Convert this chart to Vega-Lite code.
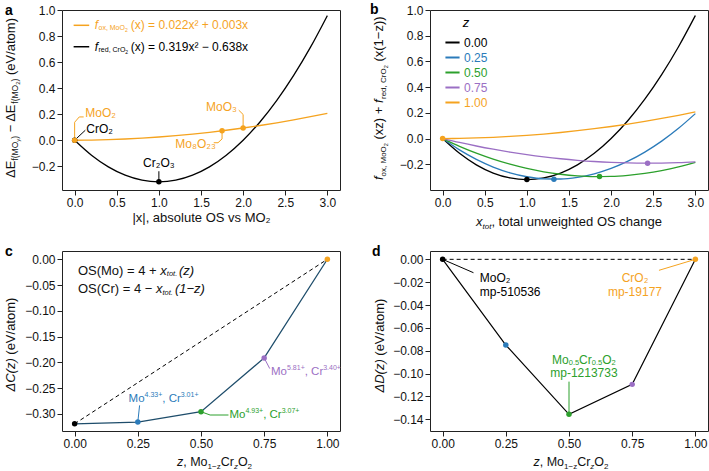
{
"$schema": "https://vega.github.io/schema/vega-lite/v6.json",
"background": "white",
"padding": {"left": 3, "top": 2, "right": 0, "bottom": 0},
"config": {
  "font": "Liberation Sans",
  "view": {"stroke": "#222222", "strokeWidth": 1},
  "axis": {"domain": false, "grid": false, "tickColor": "#222222", "tickSize": 5, "tickWidth": 1, "labelFont": "Liberation Sans", "labelFontSize": 12, "labelColor": "#111111", "labelPadding": 2, "labelFlush": false, "labelOverlap": false, "titleFont": "Liberation Sans", "titleFontSize": 13, "titleFontWeight": "normal", "titleColor": "#111111", "titlePadding": 3},
  "text": {"font": "Liberation Sans", "color": "#111111"},
  "legend": {"labelFont": "Liberation Sans", "titleFont": "Liberation Sans"}
},
"datasets": {
  "one": [{"x": 0, "y": 0}],
  "curves": [
    {"zs":"0.00","x":0,"y":0},{"zs":"0.00","x":0.2,"y":-0.11484},{"zs":"0.00","x":0.4,"y":-0.20416},{"zs":"0.00","x":0.6,"y":-0.26796},{"zs":"0.00","x":0.8,"y":-0.30624},{"zs":"0.00","x":1.0,"y":-0.319},{"zs":"0.00","x":1.2,"y":-0.30624},{"zs":"0.00","x":1.4,"y":-0.26796},{"zs":"0.00","x":1.6,"y":-0.20416},{"zs":"0.00","x":1.8,"y":-0.11484},{"zs":"0.00","x":2.0,"y":0},{"zs":"0.00","x":2.2,"y":0.14036},{"zs":"0.00","x":2.4,"y":0.30624},{"zs":"0.00","x":2.6,"y":0.49764},{"zs":"0.00","x":2.8,"y":0.71456},{"zs":"0.00","x":3.0,"y":0.957},
    {"zs":"0.25","x":0,"y":0},{"zs":"0.25","x":0.2,"y":-0.08832},{"zs":"0.25","x":0.4,"y":-0.16217},{"zs":"0.25","x":0.6,"y":-0.22156},{"zs":"0.25","x":0.8,"y":-0.26648},{"zs":"0.25","x":1.0,"y":-0.29694},{"zs":"0.25","x":1.2,"y":-0.31293},{"zs":"0.25","x":1.4,"y":-0.31446},{"zs":"0.25","x":1.6,"y":-0.30152},{"zs":"0.25","x":1.8,"y":-0.27412},{"zs":"0.25","x":2.0,"y":-0.23225},{"zs":"0.25","x":2.2,"y":-0.17592},{"zs":"0.25","x":2.4,"y":-0.10512},{"zs":"0.25","x":2.6,"y":-0.01986},{"zs":"0.25","x":2.8,"y":0.07987},{"zs":"0.25","x":3.0,"y":0.19406},
    {"zs":"0.50","x":0,"y":0},{"zs":"0.50","x":0.2,"y":-0.06009},{"zs":"0.50","x":0.4,"y":-0.11336},{"zs":"0.50","x":0.6,"y":-0.15981},{"zs":"0.50","x":0.8,"y":-0.19944},{"zs":"0.50","x":1.0,"y":-0.23225},{"zs":"0.50","x":1.2,"y":-0.25824},{"zs":"0.50","x":1.4,"y":-0.27741},{"zs":"0.50","x":1.6,"y":-0.28976},{"zs":"0.50","x":1.8,"y":-0.29529},{"zs":"0.50","x":2.0,"y":-0.294},{"zs":"0.50","x":2.2,"y":-0.28589},{"zs":"0.50","x":2.4,"y":-0.27096},{"zs":"0.50","x":2.6,"y":-0.24921},{"zs":"0.50","x":2.8,"y":-0.22064},{"zs":"0.50","x":3.0,"y":-0.18525},
    {"zs":"0.75","x":0,"y":0},{"zs":"0.75","x":0.2,"y":-0.03016},{"zs":"0.75","x":0.4,"y":-0.05773},{"zs":"0.75","x":0.6,"y":-0.08272},{"zs":"0.75","x":0.8,"y":-0.10512},{"zs":"0.75","x":1.0,"y":-0.12494},{"zs":"0.75","x":1.2,"y":-0.14217},{"zs":"0.75","x":1.4,"y":-0.15682},{"zs":"0.75","x":1.6,"y":-0.16888},{"zs":"0.75","x":1.8,"y":-0.17836},{"zs":"0.75","x":2.0,"y":-0.18525},{"zs":"0.75","x":2.2,"y":-0.18956},{"zs":"0.75","x":2.4,"y":-0.19128},{"zs":"0.75","x":2.6,"y":-0.19042},{"zs":"0.75","x":2.8,"y":-0.18697},{"zs":"0.75","x":3.0,"y":-0.18094},
    {"zs":"1.00","x":0,"y":0},{"zs":"1.00","x":0.2,"y":0.00148},{"zs":"1.00","x":0.4,"y":0.00472},{"zs":"1.00","x":0.6,"y":0.00972},{"zs":"1.00","x":0.8,"y":0.01648},{"zs":"1.00","x":1.0,"y":0.025},{"zs":"1.00","x":1.2,"y":0.03528},{"zs":"1.00","x":1.4,"y":0.04732},{"zs":"1.00","x":1.6,"y":0.06112},{"zs":"1.00","x":1.8,"y":0.07668},{"zs":"1.00","x":2.0,"y":0.094},{"zs":"1.00","x":2.2,"y":0.11308},{"zs":"1.00","x":2.4,"y":0.13392},{"zs":"1.00","x":2.6,"y":0.15652},{"zs":"1.00","x":2.8,"y":0.18088},{"zs":"1.00","x":3.0,"y":0.207}
  ],
  "a_leaders": [
    {"id":"MoO2","series":"ox","k":0,"x":0,"y":0},{"id":"MoO2","series":"ox","k":1,"x":0,"y":0.138},{"id":"MoO2","series":"ox","k":2,"x":0.055,"y":0.179},{"id":"MoO2","series":"ox","k":3,"x":0.107,"y":0.179},
    {"id":"CrO2","series":"red","k":0,"x":0,"y":0},{"id":"CrO2","series":"red","k":1,"x":0.127,"y":0.077},
    {"id":"Cr2O3","series":"red","k":0,"x":1,"y":-0.319},{"id":"Cr2O3","series":"red","k":1,"x":1,"y":-0.238},
    {"id":"MoO3","series":"ox","k":0,"x":2,"y":0.094},{"id":"MoO3","series":"ox","k":1,"x":2,"y":0.198},{"id":"MoO3","series":"ox","k":2,"x":1.948,"y":0.231},
    {"id":"Mo8O23","series":"ox","k":0,"x":1.75,"y":0.0726},{"id":"Mo8O23","series":"ox","k":1,"x":1.75,"y":0.01},{"id":"Mo8O23","series":"ox","k":2,"x":1.702,"y":-0.019},{"id":"Mo8O23","series":"ox","k":3,"x":1.651,"y":-0.019}
  ],
  "a_points": [
    {"series":"red","x":1,"y":-0.319},{"series":"red","x":0,"y":0},{"series":"ox","x":0,"y":0},{"series":"ox","x":1.75,"y":0.0726},{"series":"ox","x":2,"y":0.094}
  ],
  "a_text": [
    {"series":"ox","x":0.127,"y":0.21,"t":"MoO₂"},{"series":"red","x":0.139,"y":0.09,"t":"CrO₂"},{"series":"red","x":1,"y":-0.175,"t":"Cr₂O₃"},{"series":"ox","x":1.56,"y":0.256,"t":"MoO₃"},{"series":"ox","x":1.195,"y":-0.028,"t":"Mo₈O₂₃"}
  ],
  "b_min": [
    {"zs":"0.00","x":1.0,"y":-0.319},{"zs":"0.25","x":1.321,"y":-0.3156},{"zs":"0.50","x":1.862,"y":-0.2956},{"zs":"0.75","x":2.433,"y":-0.1913},{"zs":"1.00","x":0,"y":0}
  ],
  "c_pts": [
    {"zs":"0.00","x":0,"y":-0.319},{"zs":"0.25","x":0.25,"y":-0.3156},{"zs":"0.50","x":0.5,"y":-0.2956},{"zs":"0.75","x":0.75,"y":-0.1913},{"zs":"1.00","x":1,"y":0}
  ],
  "c_leaders": [
    {"id":"b","zs":"0.25","k":0,"x":0.25,"y":-0.3156},{"id":"b","zs":"0.25","k":1,"x":0.257,"y":-0.2833},
    {"id":"g","zs":"0.50","k":0,"x":0.5,"y":-0.2956},{"id":"g","zs":"0.50","k":1,"x":0.536,"y":-0.302},{"id":"g","zs":"0.50","k":2,"x":0.6087,"y":-0.302},
    {"id":"p","zs":"0.75","k":0,"x":0.75,"y":-0.1913},{"id":"p","zs":"0.75","k":1,"x":0.772,"y":-0.212}
  ],
  "c_labels": [
    {"zs":"0.25","x":0.2134,"y":-0.2715,"mo":"4.33+","cr":"3.01+"},
    {"zs":"0.50","x":0.6126,"y":-0.302,"mo":"4.93+","cr":"3.07+"},
    {"zs":"0.75","x":0.777,"y":-0.219,"mo":"5.81+","cr":"3.40+"}
  ],
  "d_pts": [
    {"zs":"0.00","x":0,"y":0},{"zs":"0.25","x":0.25,"y":-0.075},{"zs":"0.50","x":0.5,"y":-0.1356},{"zs":"0.75","x":0.75,"y":-0.1094},{"zs":"1.00","x":1,"y":0}
  ],
  "d_leaders": [
    {"id":"m","zs":"0.00","k":0,"x":0,"y":0},{"id":"m","zs":"0.00","k":1,"x":0.122,"y":-0.0117},
    {"id":"c","zs":"1.00","k":0,"x":1,"y":0},{"id":"c","zs":"1.00","k":1,"x":0.856,"y":-0.0096},
    {"id":"g","zs":"0.50","k":0,"x":0.5,"y":-0.107},{"id":"g","zs":"0.50","k":1,"x":0.5,"y":-0.1356}
  ],
  "d_text": [
    {"zs":"0.00","x":0.147,"y":-0.0161,"t":"MoO₂"},{"zs":"0.00","x":0.147,"y":-0.0286,"t":"mp-510536"},
    {"zs":"1.00","x":0.761,"y":-0.0161,"t":"CrO₂"},{"zs":"1.00","x":0.761,"y":-0.0286,"t":"mp-19177"},
    {"zs":"0.50","x":0.559,"y":-0.0995,"t":"mp-1213733"}
  ]
},
"columns": 2,
"bounds": "flush",
"spacing": {"row": 61, "column": 90},
"resolve": {"scale": {"color": "independent"}},
"concat": [
{
  "width": 278, "height": 180,
  "encoding": {
    "x": {"field":"x","type":"quantitative","scale":{"domain":[-0.15,3.15],"nice":false,"zero":false},"axis":{"values":[0,0.5,1,1.5,2,2.5,3],"format":".1f","title":"|x|, absolute OS vs MO₂"}},
    "y": {"field":"y","type":"quantitative","scale":{"domain":[-0.382,1.0],"nice":false,"zero":false},"axis":{"values":[-0.2,0,0.2,0.4,0.6,0.8,1.0],"format":".1f","title":null}}
  },
  "layer": [
    {"data":{"name":"curves"},"transform":[{"filter":"datum.zs=='0.00'"}],"mark":{"type":"line","color":"#000000","strokeWidth":1.3,"interpolate":"monotone"},"encoding":{}},
    {"data":{"name":"curves"},"transform":[{"filter":"datum.zs=='1.00'"}],"mark":{"type":"line","color":"#f5a31f","strokeWidth":1.3,"interpolate":"monotone"},"encoding":{}},
    {"data":{"name":"a_leaders"},"mark":{"type":"line","strokeWidth":1},"encoding":{"detail":{"field":"id"},"order":{"field":"k"},"color":{"field":"series","type":"nominal","scale":{"domain":["ox","red"],"range":["#f5a31f","#000000"]},"legend":null}}},
    {"data":{"name":"a_points"},"mark":{"type":"circle","size":30,"opacity":1},"encoding":{"color":{"field":"series","type":"nominal","legend":null}}},
    {"data":{"name":"a_text"},"transform":[{"filter":"datum.t!='Cr₂O₃'"}],"mark":{"type":"text","align":"left","baseline":"middle","fontSize":12},"encoding":{"text":{"field":"t"},"color":{"field":"series","type":"nominal","legend":null}}},
    {"data":{"name":"a_text"},"transform":[{"filter":"datum.t=='Cr₂O₃'"}],"mark":{"type":"text","align":"center","baseline":"middle","fontSize":12},"encoding":{"text":{"field":"t"},"color":{"field":"series","type":"nominal","legend":null}}},
    {"data":{"name":"one"},"mark":{"type":"rule","color":"#f5a31f","strokeWidth":1.5},"encoding":{"x":{"datum":-0.012},"x2":{"datum":0.173},"y":{"datum":0.8825}}},
    {"data":{"name":"one"},"mark":{"type":"rule","color":"#000000","strokeWidth":1.5},"encoding":{"x":{"datum":-0.012},"x2":{"datum":0.173},"y":{"datum":0.718}}},
    {"data":{"name":"one"},"mark":{"type":"text","align":"left","baseline":"middle","fontSize":12,"fontStyle":"italic","dx":5.5,"color":"#f5a31f"},"encoding":{"x":{"datum":0.173},"y":{"datum":0.8825},"text":{"value":"f"}}},
    {"data":{"name":"one"},"mark":{"type":"text","align":"left","baseline":"middle","fontSize":7,"dx":9.3,"dy":3,"color":"#f5a31f"},"encoding":{"x":{"datum":0.173},"y":{"datum":0.8825},"text":{"value":"ox, MoO"}}},
    {"data":{"name":"one"},"mark":{"type":"text","align":"left","baseline":"middle","fontSize":5,"dx":35.8,"dy":5,"color":"#f5a31f"},"encoding":{"x":{"datum":0.173},"y":{"datum":0.8825},"text":{"value":"2"}}},
    {"data":{"name":"one"},"mark":{"type":"text","align":"left","baseline":"middle","fontSize":12,"dx":41.5,"color":"#f5a31f"},"encoding":{"x":{"datum":0.173},"y":{"datum":0.8825},"text":{"value":"(x) = 0.022x² + 0.003x"}}},
    {"data":{"name":"one"},"mark":{"type":"text","align":"left","baseline":"middle","fontSize":12,"fontStyle":"italic","dx":5.5,"color":"#000000"},"encoding":{"x":{"datum":0.173},"y":{"datum":0.718},"text":{"value":"f"}}},
    {"data":{"name":"one"},"mark":{"type":"text","align":"left","baseline":"middle","fontSize":7,"dx":9.3,"dy":3,"color":"#000000"},"encoding":{"x":{"datum":0.173},"y":{"datum":0.718},"text":{"value":"red, CrO"}}},
    {"data":{"name":"one"},"mark":{"type":"text","align":"left","baseline":"middle","fontSize":5,"dx":36.1,"dy":5,"color":"#000000"},"encoding":{"x":{"datum":0.173},"y":{"datum":0.718},"text":{"value":"2"}}},
    {"data":{"name":"one"},"mark":{"type":"text","align":"left","baseline":"middle","fontSize":12,"dx":41.5,"color":"#000000"},"encoding":{"x":{"datum":0.173},"y":{"datum":0.718},"text":{"value":"(x) = 0.319x² − 0.638x"}}},
    {"data":{"name":"one"},"mark":{"type":"text","align":"left","baseline":"alphabetic","angle":270,"fontSize":13,"dx":-78,"dy":-47},"encoding":{"x":{"datum":-0.15},"y":{"datum":0.309},"text":{"value":"ΔE"}}},
    {"data":{"name":"one"},"mark":{"type":"text","align":"left","baseline":"alphabetic","angle":270,"fontSize":8.5,"dx":-60.6,"dy":-44},"encoding":{"x":{"datum":-0.15},"y":{"datum":0.309},"text":{"value":"f(MO"}}},
    {"data":{"name":"one"},"mark":{"type":"text","align":"left","baseline":"alphabetic","angle":270,"fontSize":6,"dx":-41.7,"dy":-42},"encoding":{"x":{"datum":-0.15},"y":{"datum":0.309},"text":{"value":"y"}}},
    {"data":{"name":"one"},"mark":{"type":"text","align":"left","baseline":"alphabetic","angle":270,"fontSize":8.5,"dx":-38.7,"dy":-44},"encoding":{"x":{"datum":-0.15},"y":{"datum":0.309},"text":{"value":")"}}},
    {"data":{"name":"one"},"mark":{"type":"text","align":"left","baseline":"alphabetic","angle":270,"fontSize":13,"dx":-32.3,"dy":-47},"encoding":{"x":{"datum":-0.15},"y":{"datum":0.309},"text":{"value":"− ΔE"}}},
    {"data":{"name":"one"},"mark":{"type":"text","align":"left","baseline":"alphabetic","angle":270,"fontSize":8.5,"dx":-3.7,"dy":-44},"encoding":{"x":{"datum":-0.15},"y":{"datum":0.309},"text":{"value":"f(MO"}}},
    {"data":{"name":"one"},"mark":{"type":"text","align":"left","baseline":"alphabetic","angle":270,"fontSize":6,"dx":15.2,"dy":-42},"encoding":{"x":{"datum":-0.15},"y":{"datum":0.309},"text":{"value":"2"}}},
    {"data":{"name":"one"},"mark":{"type":"text","align":"left","baseline":"alphabetic","angle":270,"fontSize":8.5,"dx":18.5,"dy":-44},"encoding":{"x":{"datum":-0.15},"y":{"datum":0.309},"text":{"value":")"}}},
    {"data":{"name":"one"},"mark":{"type":"text","align":"left","baseline":"alphabetic","angle":270,"fontSize":13,"dx":24.9,"dy":-47},"encoding":{"x":{"datum":-0.15},"y":{"datum":0.309},"text":{"value":"(eV/atom)"}}},
    {"data":{"name":"one"},"mark":{"type":"text","align":"left","baseline":"alphabetic","fontSize":14,"fontWeight":"bold","dx":-57,"dy":4.5,"color":"#000000"},"encoding":{"x":{"datum":-0.15},"y":{"datum":1.0},"text":{"value":"a"}}}
  ]
},
{
  "width": 278, "height": 180,
  "encoding": {
    "x": {"field":"x","type":"quantitative","scale":{"domain":[-0.15,3.15],"nice":false,"zero":false},"axis":{"values":[0,0.5,1,1.5,2,2.5,3],"format":".1f","title":null}},
    "y": {"field":"y","type":"quantitative","scale":{"domain":[-0.4,1.0],"nice":false,"zero":false},"axis":{"values":[-0.2,0,0.2,0.4,0.6,0.8,1.0],"format":".1f","title":null}}
  },
  "layer": [
    {"data":{"name":"curves"},"mark":{"type":"line","strokeWidth":1.3,"interpolate":"monotone"},"encoding":{"color":{"field":"zs","type":"nominal","scale":{"domain":["0.00","0.25","0.50","0.75","1.00"],"range":["#000000","#2b7bba","#2ca02c","#9b6fc4","#f5a31f"]},"legend":{"title":"z","orient":"none","legendX":14,"legendY":7,"padding":0,"symbolType":"stroke","symbolSize":200,"symbolStrokeWidth":2,"labelFontSize":12,"labelOffset":3,"rowPadding":0,"titleFontSize":13,"titleFontStyle":"italic","titleFontWeight":"normal","titleAnchor":"middle","titlePadding":4,"labelColor":{"expr":"datum.value=='0.00' ? '#000000' : datum.value=='0.25' ? '#2b7bba' : datum.value=='0.50' ? '#2ca02c' : datum.value=='0.75' ? '#9b6fc4' : '#f5a31f'"}}}}},
    {"data":{"name":"b_min"},"mark":{"type":"circle","size":30,"opacity":1},"encoding":{"color":{"field":"zs","type":"nominal","legend":null}}},
    {"data":{"name":"one"},"mark":{"type":"text","align":"left","baseline":"alphabetic","angle":270,"fontSize":13,"fontStyle":"italic","dx":-80,"dy":-47.5},"encoding":{"x":{"datum":-0.15},"y":{"datum":0.3},"text":{"value":"f"}}},
    {"data":{"name":"one"},"mark":{"type":"text","align":"left","baseline":"alphabetic","angle":270,"fontSize":8,"dx":-76.4,"dy":-44.5},"encoding":{"x":{"datum":-0.15},"y":{"datum":0.3},"text":{"value":"ox, MoO"}}},
    {"data":{"name":"one"},"mark":{"type":"text","align":"left","baseline":"alphabetic","angle":270,"fontSize":5.5,"dx":-46.2,"dy":-42.5},"encoding":{"x":{"datum":-0.15},"y":{"datum":0.3},"text":{"value":"2"}}},
    {"data":{"name":"one"},"mark":{"type":"text","align":"left","baseline":"alphabetic","angle":270,"fontSize":13,"dx":-39.5,"dy":-47.5},"encoding":{"x":{"datum":-0.15},"y":{"datum":0.3},"text":{"value":"(xz) +"}}},
    {"data":{"name":"one"},"mark":{"type":"text","align":"left","baseline":"alphabetic","angle":270,"fontSize":13,"fontStyle":"italic","dx":-3.0,"dy":-47.5},"encoding":{"x":{"datum":-0.15},"y":{"datum":0.3},"text":{"value":"f"}}},
    {"data":{"name":"one"},"mark":{"type":"text","align":"left","baseline":"alphabetic","angle":270,"fontSize":8,"dx":1.0,"dy":-44.5},"encoding":{"x":{"datum":-0.15},"y":{"datum":0.3},"text":{"value":"red, CrO"}}},
    {"data":{"name":"one"},"mark":{"type":"text","align":"left","baseline":"alphabetic","angle":270,"fontSize":5.5,"dx":31.7,"dy":-42.5},"encoding":{"x":{"datum":-0.15},"y":{"datum":0.3},"text":{"value":"2"}}},
    {"data":{"name":"one"},"mark":{"type":"text","align":"left","baseline":"alphabetic","angle":270,"fontSize":13,"dx":38.4,"dy":-47.5},"encoding":{"x":{"datum":-0.15},"y":{"datum":0.3},"text":{"value":"(x(1−z))"}}},
    {"data":{"name":"one"},"mark":{"type":"text","align":"left","baseline":"alphabetic","fontSize":13,"fontStyle":"italic","dx":-93,"dy":35.5},"encoding":{"x":{"datum":1.5},"y":{"datum":-0.4},"text":{"value":"x"}}},
    {"data":{"name":"one"},"mark":{"type":"text","align":"left","baseline":"alphabetic","fontSize":8,"fontStyle":"italic","dx":-86.5,"dy":38.5},"encoding":{"x":{"datum":1.5},"y":{"datum":-0.4},"text":{"value":"tot"}}},
    {"data":{"name":"one"},"mark":{"type":"text","align":"left","baseline":"alphabetic","fontSize":13,"dx":-77.6,"dy":35.5},"encoding":{"x":{"datum":1.5},"y":{"datum":-0.4},"text":{"value":", total unweighted OS change"}}},
    {"data":{"name":"one"},"mark":{"type":"text","align":"left","baseline":"alphabetic","fontSize":14,"fontWeight":"bold","dx":-60,"dy":3.5,"color":"#000000"},"encoding":{"x":{"datum":-0.15},"y":{"datum":1.0},"text":{"value":"b"}}}
  ]
},
{
  "width": 278, "height": 180,
  "encoding": {
    "x": {"field":"x","type":"quantitative","scale":{"domain":[-0.05,1.05],"nice":false,"zero":false},"axis":{"values":[0,0.25,0.5,0.75,1],"format":".2f","title":null}},
    "y": {"field":"y","type":"quantitative","scale":{"domain":[-0.333,0.016],"nice":false,"zero":false},"axis":{"values":[0,-0.05,-0.1,-0.15,-0.2,-0.25,-0.3],"format":".2f","title":null}}
  },
  "layer": [
    {"data":{"name":"c_pts"},"transform":[{"filter":{"field":"zs","oneOf":["0.00","1.00"]}}],"mark":{"type":"line","color":"#000000","strokeWidth":1,"strokeDash":[4,3]},"encoding":{}},
    {"data":{"name":"c_pts"},"mark":{"type":"line","color":"#1e4d6b","strokeWidth":1.3},"encoding":{}},
    {"data":{"name":"c_leaders"},"mark":{"type":"line","strokeWidth":1},"encoding":{"detail":{"field":"id"},"order":{"field":"k"},"color":{"field":"zs","type":"nominal","scale":{"domain":["0.00","0.25","0.50","0.75","1.00"],"range":["#000000","#2b7bba","#2ca02c","#9b6fc4","#f5a31f"]},"legend":null}}},
    {"data":{"name":"c_pts"},"mark":{"type":"circle","size":30,"opacity":1},"encoding":{"color":{"field":"zs","type":"nominal","legend":null}}},
    {"data":{"name":"c_labels"},"mark":{"type":"text","align":"left","baseline":"middle","fontSize":11.5},"encoding":{"text":{"value":"Mo"},"color":{"field":"zs","type":"nominal","legend":null}}},
    {"data":{"name":"c_labels"},"mark":{"type":"text","align":"left","baseline":"middle","fontSize":7,"dx":16.0,"dy":-4.5},"encoding":{"text":{"field":"mo"},"color":{"field":"zs","type":"nominal","legend":null}}},
    {"data":{"name":"c_labels"},"mark":{"type":"text","align":"left","baseline":"middle","fontSize":11.5,"dx":33.7},"encoding":{"text":{"value":", Cr"},"color":{"field":"zs","type":"nominal","legend":null}}},
    {"data":{"name":"c_labels"},"mark":{"type":"text","align":"left","baseline":"middle","fontSize":7,"dx":52.2,"dy":-4.5},"encoding":{"text":{"field":"cr"},"color":{"field":"zs","type":"nominal","legend":null}}},
    {"data":{"name":"one"},"mark":{"type":"text","align":"left","baseline":"middle","fontSize":13,"dx":0},"encoding":{"x":{"datum":0.013},"y":{"datum":-0.022},"text":{"value":"OS(Mo) = 4 +"}}},
    {"data":{"name":"one"},"mark":{"type":"text","align":"left","baseline":"middle","fontSize":13,"fontStyle":"italic","dx":82.4},"encoding":{"x":{"datum":0.013},"y":{"datum":-0.022},"text":{"value":"x"}}},
    {"data":{"name":"one"},"mark":{"type":"text","align":"left","baseline":"middle","fontSize":7.5,"fontStyle":"italic","dx":88.9,"dy":3.5},"encoding":{"x":{"datum":0.013},"y":{"datum":-0.022},"text":{"value":"tot."}}},
    {"data":{"name":"one"},"mark":{"type":"text","align":"left","baseline":"middle","fontSize":13,"fontStyle":"italic","dx":101},"encoding":{"x":{"datum":0.013},"y":{"datum":-0.022},"text":{"value":"(z)"}}},
    {"data":{"name":"one"},"mark":{"type":"text","align":"left","baseline":"middle","fontSize":13,"dx":0},"encoding":{"x":{"datum":0.013},"y":{"datum":-0.058},"text":{"value":"OS(Cr) = 4 −"}}},
    {"data":{"name":"one"},"mark":{"type":"text","align":"left","baseline":"middle","fontSize":13,"fontStyle":"italic","dx":78},"encoding":{"x":{"datum":0.013},"y":{"datum":-0.058},"text":{"value":"x"}}},
    {"data":{"name":"one"},"mark":{"type":"text","align":"left","baseline":"middle","fontSize":7.5,"fontStyle":"italic","dx":84.5,"dy":3.5},"encoding":{"x":{"datum":0.013},"y":{"datum":-0.058},"text":{"value":"tot."}}},
    {"data":{"name":"one"},"mark":{"type":"text","align":"left","baseline":"middle","fontSize":13,"fontStyle":"italic","dx":97},"encoding":{"x":{"datum":0.013},"y":{"datum":-0.058},"text":{"value":"(1−z)"}}},
    {"data":{"name":"one"},"mark":{"type":"text","align":"left","baseline":"alphabetic","fontSize":12.5,"fontStyle":"italic","dx":-24,"dy":34.5},"encoding":{"x":{"datum":0.5},"y":{"datum":-0.333},"text":{"value":"z"}}},
    {"data":{"name":"one"},"mark":{"type":"text","align":"left","baseline":"alphabetic","fontSize":12.5,"dx":-17.75,"dy":34.5},"encoding":{"x":{"datum":0.5},"y":{"datum":-0.333},"text":{"value":", Mo"}}},
    {"data":{"name":"one"},"mark":{"type":"text","align":"left","baseline":"alphabetic","fontSize":8,"dx":6.6,"dy":37.5},"encoding":{"x":{"datum":0.5},"y":{"datum":-0.333},"text":{"value":"1−z"}}},
    {"data":{"name":"one"},"mark":{"type":"text","align":"left","baseline":"alphabetic","fontSize":12.5,"dx":19.7,"dy":34.5},"encoding":{"x":{"datum":0.5},"y":{"datum":-0.333},"text":{"value":"Cr"}}},
    {"data":{"name":"one"},"mark":{"type":"text","align":"left","baseline":"alphabetic","fontSize":8,"fontStyle":"italic","dx":32.9,"dy":37.5},"encoding":{"x":{"datum":0.5},"y":{"datum":-0.333},"text":{"value":"z"}}},
    {"data":{"name":"one"},"mark":{"type":"text","align":"left","baseline":"alphabetic","fontSize":12.5,"dx":36.9,"dy":34.5},"encoding":{"x":{"datum":0.5},"y":{"datum":-0.333},"text":{"value":"O"}}},
    {"data":{"name":"one"},"mark":{"type":"text","align":"left","baseline":"alphabetic","fontSize":8,"dx":46.6,"dy":37.5},"encoding":{"x":{"datum":0.5},"y":{"datum":-0.333},"text":{"value":"2"}}},
    {"data":{"name":"one"},"mark":{"type":"text","align":"left","baseline":"alphabetic","angle":270,"fontSize":13,"fontStyle":"italic","dx":-50.5,"dy":-47.5},"encoding":{"x":{"datum":-0.05},"y":{"datum":-0.1585},"text":{"value":"ΔC(z)"}}},
    {"data":{"name":"one"},"mark":{"type":"text","align":"left","baseline":"alphabetic","angle":270,"fontSize":13,"dx":-13.7,"dy":-47.5},"encoding":{"x":{"datum":-0.05},"y":{"datum":-0.1585},"text":{"value":"(eV/atom)"}}},
    {"data":{"name":"one"},"mark":{"type":"text","align":"left","baseline":"alphabetic","fontSize":14,"fontWeight":"bold","dx":-57,"dy":5,"color":"#000000"},"encoding":{"x":{"datum":-0.05},"y":{"datum":0.016},"text":{"value":"c"}}}
  ]
},
{
  "width": 278, "height": 180,
  "encoding": {
    "x": {"field":"x","type":"quantitative","scale":{"domain":[-0.05,1.05],"nice":false,"zero":false},"axis":{"values":[0,0.25,0.5,0.75,1],"format":".2f","title":null}},
    "y": {"field":"y","type":"quantitative","scale":{"domain":[-0.1502,0.0073],"nice":false,"zero":false},"axis":{"values":[0,-0.02,-0.04,-0.06,-0.08,-0.1,-0.12,-0.14],"format":".2f","title":null}}
  },
  "layer": [
    {"data":{"name":"d_pts"},"transform":[{"filter":{"field":"zs","oneOf":["0.00","1.00"]}}],"mark":{"type":"line","color":"#000000","strokeWidth":1,"strokeDash":[4,3]},"encoding":{}},
    {"data":{"name":"d_pts"},"mark":{"type":"line","color":"#000000","strokeWidth":1.2},"encoding":{}},
    {"data":{"name":"d_leaders"},"mark":{"type":"line","strokeWidth":1},"encoding":{"detail":{"field":"id"},"order":{"field":"k"},"color":{"field":"zs","type":"nominal","scale":{"domain":["0.00","0.25","0.50","0.75","1.00"],"range":["#000000","#2b7bba","#2ca02c","#9b6fc4","#f5a31f"]},"legend":null}}},
    {"data":{"name":"d_pts"},"mark":{"type":"circle","size":30,"opacity":1},"encoding":{"color":{"field":"zs","type":"nominal","legend":null}}},
    {"data":{"name":"d_text"},"transform":[{"filter":"datum.zs=='0.00'"}],"mark":{"type":"text","align":"left","baseline":"middle","fontSize":12},"encoding":{"text":{"field":"t"},"color":{"field":"zs","type":"nominal","legend":null}}},
    {"data":{"name":"d_text"},"transform":[{"filter":"datum.zs!='0.00'"}],"mark":{"type":"text","align":"center","baseline":"middle","fontSize":12},"encoding":{"text":{"field":"t"},"color":{"field":"zs","type":"nominal","legend":null}}},
    {"data":{"name":"one"},"mark":{"type":"text","align":"left","baseline":"middle","fontSize":12,"dx":-31.9,"color":"#2ca02c"},"encoding":{"x":{"datum":0.559},"y":{"datum":-0.0885},"text":{"value":"Mo"}}},
    {"data":{"name":"one"},"mark":{"type":"text","align":"left","baseline":"middle","fontSize":7.5,"dx":-15.2,"dy":3,"color":"#2ca02c"},"encoding":{"x":{"datum":0.559},"y":{"datum":-0.0885},"text":{"value":"0.5"}}},
    {"data":{"name":"one"},"mark":{"type":"text","align":"left","baseline":"middle","fontSize":12,"dx":-4.8,"color":"#2ca02c"},"encoding":{"x":{"datum":0.559},"y":{"datum":-0.0885},"text":{"value":"Cr"}}},
    {"data":{"name":"one"},"mark":{"type":"text","align":"left","baseline":"middle","fontSize":7.5,"dx":7.9,"dy":3,"color":"#2ca02c"},"encoding":{"x":{"datum":0.559},"y":{"datum":-0.0885},"text":{"value":"0.5"}}},
    {"data":{"name":"one"},"mark":{"type":"text","align":"left","baseline":"middle","fontSize":12,"dx":18.3,"color":"#2ca02c"},"encoding":{"x":{"datum":0.559},"y":{"datum":-0.0885},"text":{"value":"O"}}},
    {"data":{"name":"one"},"mark":{"type":"text","align":"left","baseline":"middle","fontSize":7.5,"dx":27.6,"dy":3,"color":"#2ca02c"},"encoding":{"x":{"datum":0.559},"y":{"datum":-0.0885},"text":{"value":"2"}}},
    {"data":{"name":"one"},"mark":{"type":"text","align":"left","baseline":"alphabetic","fontSize":12.5,"fontStyle":"italic","dx":-35.5,"dy":34.5},"encoding":{"x":{"datum":0.5},"y":{"datum":-0.1502},"text":{"value":"z"}}},
    {"data":{"name":"one"},"mark":{"type":"text","align":"left","baseline":"alphabetic","fontSize":12.5,"dx":-29.25,"dy":34.5},"encoding":{"x":{"datum":0.5},"y":{"datum":-0.1502},"text":{"value":", Mo"}}},
    {"data":{"name":"one"},"mark":{"type":"text","align":"left","baseline":"alphabetic","fontSize":8,"dx":-4.95,"dy":37.5},"encoding":{"x":{"datum":0.5},"y":{"datum":-0.1502},"text":{"value":"1−z"}}},
    {"data":{"name":"one"},"mark":{"type":"text","align":"left","baseline":"alphabetic","fontSize":12.5,"dx":8.15,"dy":34.5},"encoding":{"x":{"datum":0.5},"y":{"datum":-0.1502},"text":{"value":"Cr"}}},
    {"data":{"name":"one"},"mark":{"type":"text","align":"left","baseline":"alphabetic","fontSize":8,"fontStyle":"italic","dx":21.35,"dy":37.5},"encoding":{"x":{"datum":0.5},"y":{"datum":-0.1502},"text":{"value":"z"}}},
    {"data":{"name":"one"},"mark":{"type":"text","align":"left","baseline":"alphabetic","fontSize":12.5,"dx":25.35,"dy":34.5},"encoding":{"x":{"datum":0.5},"y":{"datum":-0.1502},"text":{"value":"O"}}},
    {"data":{"name":"one"},"mark":{"type":"text","align":"left","baseline":"alphabetic","fontSize":8,"dx":35.05,"dy":37.5},"encoding":{"x":{"datum":0.5},"y":{"datum":-0.1502},"text":{"value":"2"}}},
    {"data":{"name":"one"},"mark":{"type":"text","align":"left","baseline":"alphabetic","angle":270,"fontSize":13,"fontStyle":"italic","dx":-51.5,"dy":-46},"encoding":{"x":{"datum":-0.05},"y":{"datum":-0.07145},"text":{"value":"ΔD(z)"}}},
    {"data":{"name":"one"},"mark":{"type":"text","align":"left","baseline":"alphabetic","angle":270,"fontSize":13,"dx":-14.7,"dy":-46},"encoding":{"x":{"datum":-0.05},"y":{"datum":-0.07145},"text":{"value":"(eV/atom)"}}},
    {"data":{"name":"one"},"mark":{"type":"text","align":"left","baseline":"alphabetic","fontSize":14,"fontWeight":"bold","dx":-58,"dy":5,"color":"#000000"},"encoding":{"x":{"datum":-0.05},"y":{"datum":0.0073},"text":{"value":"d"}}}
  ]
}
]
}
